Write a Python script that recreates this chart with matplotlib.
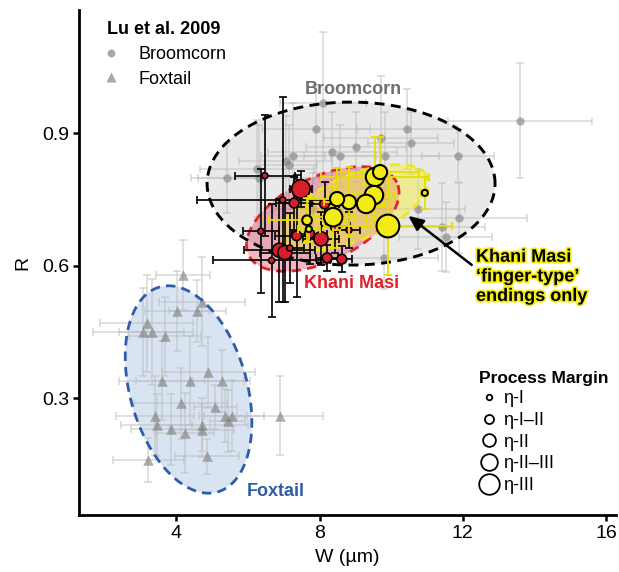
import numpy as np
import matplotlib
matplotlib.use('Agg')
import matplotlib.pyplot as plt
from matplotlib.lines import Line2D
import matplotlib.patheffects as pe

plt.rcParams['font.family'] = ['Liberation Sans', 'DejaVu Sans']

# ---------------- data ----------------
# Lu et al. 2009 - Broomcorn
broom_w  = [8.09, 7.90, 9.02, 8.35, 8.57, 7.26, 7.06, 7.14, 6.25, 5.41, 6.31, 10.44,
            9.72, 10.55, 9.83, 11.87, 13.60, 10.75, 11.89, 11.42, 11.53, 9.80, 7.82]
broom_r  = [0.969, 0.910, 0.869, 0.858, 0.849, 0.849, 0.838, 0.829, 0.820, 0.799, 0.799, 0.910,
            0.889, 0.878, 0.849, 0.849, 0.928, 0.729, 0.708, 0.688, 0.665, 0.618, 0.729]
broom_we = [1.2, 1.5, 1.4, 1.8, 1.0, 0.9, 1.3, 0.8, 1.6, 1.0, 1.7, 1.4,
            1.6, 1.2, 1.5, 1.0, 2.0, 1.3, 1.9, 1.2, 1.3, 1.5, 1.1]
broom_re = [0.16, 0.10, 0.08, 0.09, 0.07, 0.12, 0.10, 0.09, 0.11, 0.08, 0.12, 0.09,
            0.14, 0.07, 0.10, 0.06, 0.13, 0.09, 0.08, 0.10, 0.08, 0.07, 0.08]

# Lu et al. 2009 - Foxtail
fox_w  = [4.18, 4.71, 4.01, 4.59, 3.17, 3.06, 3.31, 3.69, 4.89, 3.60, 4.38, 5.27, 4.12,
          5.09, 3.40, 5.36, 5.54, 5.43, 3.45, 4.71, 3.84, 4.24, 4.71, 6.89, 3.22, 4.85]
fox_r  = [0.579, 0.519, 0.498, 0.498, 0.470, 0.450, 0.450, 0.440, 0.359, 0.340, 0.340, 0.340, 0.289,
          0.281, 0.261, 0.261, 0.261, 0.249, 0.240, 0.240, 0.230, 0.221, 0.228, 0.261, 0.160, 0.169]
fox_we = [0.76, 1.2, 0.9, 0.8, 1.3, 1.4, 0.9, 1.0, 1.3, 1.2, 1.5, 0.8, 1.3,
          0.6, 1.1, 0.6, 0.9, 0.5, 1.0, 1.3, 1.1, 0.8, 0.9, 1.2, 1.0, 0.9]
fox_re = [0.08, 0.10, 0.09, 0.07, 0.11, 0.10, 0.12, 0.09, 0.08, 0.09, 0.10, 0.07, 0.08,
          0.05, 0.09, 0.06, 0.08, 0.07, 0.07, 0.06, 0.08, 0.09, 0.06, 0.09, 0.05, 0.04]

# Process-margin classes
pm_labels = ['η-I', 'η-I–II', 'η-II', 'η-II–III', 'η-III']

# Khani Masi (other endings)
km_w  = [6.47, 7.48, 6.97, 7.29, 8.14, 8.44, 8.82, 6.36, 7.36, 7.72, 8.04, 6.88, 7.03, 7.17, 6.66, 8.21, 8.62]
km_r  = [0.804, 0.774, 0.749, 0.742, 0.740, 0.689, 0.681, 0.678, 0.668, 0.673, 0.661, 0.635, 0.630,
         0.640, 0.612, 0.618, 0.615]
km_we = [0.84, 0.30, 2.40, 0.50, 0.40, 0.40, 0.30, 0.50, 0.60, 0.50, 0.50, 1.00, 0.70, 0.40, 1.64, 0.30, 0.30]
km_re = [0.137, 0.040, 0.232, 0.060, 0.050, 0.060, 0.040, 0.140, 0.138, 0.070, 0.060, 0.116, 0.111,
         0.079, 0.127, 0.030, 0.030]
km_pm = [0, 3, 0, 1, 1, 1, 0, 0, 1, 1, 2, 2, 2, 0, 0, 1, 1]

# Khani Masi finger-type endings
fg_w  = [9.55, 9.69, 9.52, 9.30, 8.82, 8.49, 8.38, 7.65, 7.70, 9.91, 10.94]
fg_r  = [0.801, 0.812, 0.760, 0.740, 0.744, 0.751, 0.710, 0.703, 0.683, 0.690, 0.765]
fg_we = [1.5, 1.1, 0.6, 0.5, 0.7, 0.8, 0.6, 1.05, 0.3, 1.78, 0.1]
fg_re = [0.09, 0.08, 0.06, 0.05, 0.08, 0.07, 0.07, 0.05, 0.03, 0.11, 0.036]
fg_pm = [3, 2, 3, 3, 2, 2, 3, 1, 0, 4, 0]

# group ellipses: centre (W, R), semi-axes (px at 100 dpi), angle (deg)
ell_broom  = (8.88, 0.786, 144.0, 81.5, 0.0)
ell_fox    = (4.34, 0.320, 106.5, 58.5, 105.8)
ell_khani  = (8.09, 0.706, 82.5, 41.9, 26.2)
ell_finger = (8.99, 0.732, 78.3, 32.3, 23.4)

# ---------------- styling ----------------
pm_diam_pt = [4.4, 7.0, 10.2, 13.3, 16.4]

fig = plt.figure(figsize=(6.19, 5.72), dpi=100)
ax = fig.add_axes([0.1281, 0.0997, 0.8670, 0.8829])
ax.set_xlim(1.288, 16.28)
ax.set_ylim(0.036, 1.179)


def ellipse_pts(spec, n=300):
    cx, cy, a, b, ang = spec
    ppx = ax.bbox.width / (ax.get_xlim()[1] - ax.get_xlim()[0])
    ppy = ax.bbox.height / (ax.get_ylim()[1] - ax.get_ylim()[0])
    s = fig.dpi / 100.0
    t = np.linspace(0, 2 * np.pi, n)
    th = np.deg2rad(ang)
    dx = a * s * np.cos(t) * np.cos(th) - b * s * np.sin(t) * np.sin(th)
    dy = a * s * np.cos(t) * np.sin(th) + b * s * np.sin(t) * np.cos(th)
    return cx + dx / ppx, cy + dy / ppy


def draw_fill(spec, color, alpha, z):
    x, y = ellipse_pts(spec)
    ax.fill(x, y, color=color, alpha=alpha, lw=0, zorder=z)


def draw_outline(spec, color, z, lw=2.0):
    x, y = ellipse_pts(spec)
    ax.plot(x, y, color=color, lw=lw, ls=(0, (3.4, 2.2)), zorder=z,
            solid_capstyle='butt', dash_capstyle='butt')


# Lu ellipses fills
draw_fill(ell_broom, '#d0d0d0', 0.45, 1)
draw_fill(ell_fox, '#a9c4e0', 0.45, 1)

# Lu data
ax.errorbar(broom_w, broom_r, xerr=broom_we, yerr=broom_re, fmt='none', ecolor='#bdbdbd',
            alpha=0.6, elinewidth=1.1, capsize=2.6, capthick=1.1, zorder=2)
ax.errorbar(fox_w, fox_r, xerr=fox_we, yerr=fox_re, fmt='none', ecolor='#bdbdbd',
            alpha=0.6, elinewidth=1.1, capsize=2.6, capthick=1.1, zorder=2)
ax.scatter(broom_w, broom_r, s=36, marker='o', color='#7f7f7f', alpha=0.6, lw=0, zorder=3)
ax.scatter(fox_w, fox_r, s=58, marker='^', color='#7f7f7f', alpha=0.62, lw=0, zorder=3)

# Khani Masi fills
draw_fill(ell_khani, '#d6304f', 0.35, 4)
draw_fill(ell_finger, '#f2ee30', 0.45, 4)

# outlines
draw_outline(ell_broom, 'black', 5, lw=2.1)
draw_outline(ell_fox, '#2e5ca8', 5, lw=2.0)
draw_outline(ell_khani, '#e8202a', 5, lw=2.0)
draw_outline(ell_finger, '#eee81a', 5, lw=2.0)

# Khani Masi others
ax.errorbar(km_w, km_r, xerr=km_we, yerr=km_re, fmt='none', ecolor='black',
            elinewidth=1.2, capsize=3.0, capthick=1.2, zorder=6)
ax.scatter(km_w, km_r, s=[pm_diam_pt[i] ** 2 for i in km_pm], color='#d81e28',
           edgecolor='black', lw=1.2, zorder=7)

# finger-type
ax.errorbar(fg_w, fg_r, xerr=fg_we, yerr=fg_re, fmt='none', ecolor='#e6e000',
            elinewidth=1.3, capsize=3.0, capthick=1.3, zorder=8)
ax.scatter(fg_w, fg_r, s=[pm_diam_pt[i] ** 2 for i in fg_pm], color='#f2ec14',
           edgecolor='black', lw=1.5, zorder=9)

# annotations
ax.text(8.93, 0.998, 'Broomcorn', ha='center', va='center', fontsize=13,
        fontweight='bold', color='#6d6d6d', zorder=10)
ax.text(8.88, 0.561, 'Khani Masi', ha='center', va='center', fontsize=13,
        fontweight='bold', color='#e0202a', zorder=10)
ax.text(5.97, 0.090, 'Foxtail', ha='left', va='center', fontsize=13,
        fontweight='bold', color='#2e5ca8', zorder=10)
ax.text(12.37, 0.575, 'Khani Masi\n‘finger-type’\nendings only', ha='left', va='center',
        fontsize=13, fontweight='bold', color='black', linespacing=1.2, zorder=10,
        path_effects=[pe.withStroke(linewidth=2.5, foreground='#f2ec14')])
ax.annotate('', xy=(10.48, 0.713), xytext=(12.25, 0.602),
            arrowprops=dict(arrowstyle='-|>,head_length=0.9,head_width=0.4', color='black',
                            lw=1.8, shrinkA=0, shrinkB=0), zorder=10)

# legends
lu_handles = [Line2D([], [], ls='none', marker='o', markersize=5.6, color='#a8a8a8', mec='none'),
              Line2D([], [], ls='none', marker='^', markersize=7.0, color='#a8a8a8', mec='none')]
leg1 = ax.legend(lu_handles, ['Broomcorn', 'Foxtail'], title='Lu et al. 2009',
                 loc='upper left', bbox_to_anchor=(0.051, 0.978), frameon=False,
                 fontsize=13, title_fontproperties={'weight': 'bold', 'size': 13},
                 alignment='left', handlelength=0.45, handletextpad=1.3,
                 labelspacing=0.43, borderpad=0, borderaxespad=0)
ax.add_artist(leg1)

pm_handles = [Line2D([], [], ls='none', marker='o', markersize=d, mfc='white', mec='black',
                     mew=1.3) for d in [4.0, 6.5, 9.2, 12.0, 14.8]]
leg2 = ax.legend(pm_handles, pm_labels, title='Process Margin', loc='upper left',
                 bbox_to_anchor=(0.745, 0.286), frameon=False, fontsize=13,
                 title_fontproperties={'weight': 'bold', 'size': 12.5}, alignment='left',
                 handlelength=1.1, handletextpad=0.25, labelspacing=0.26,
                 borderpad=0, borderaxespad=0)

# axes styling
for side in ['top', 'right']:
    ax.spines[side].set_visible(False)
for side in ['left', 'bottom']:
    ax.spines[side].set_linewidth(2.0)
ax.set_xticks([4, 8, 12, 16])
ax.set_yticks([0.3, 0.6, 0.9])
ax.set_yticklabels(['0.3', '0.6', '0.9'])
ax.tick_params(axis='both', direction='out', length=4, width=1.8, labelsize=14, pad=3)
ax.set_xlabel('W (µm)', fontsize=14, labelpad=5)
ax.set_ylabel('R', fontsize=14, labelpad=8)

fig.savefig('out.png', dpi=100)
